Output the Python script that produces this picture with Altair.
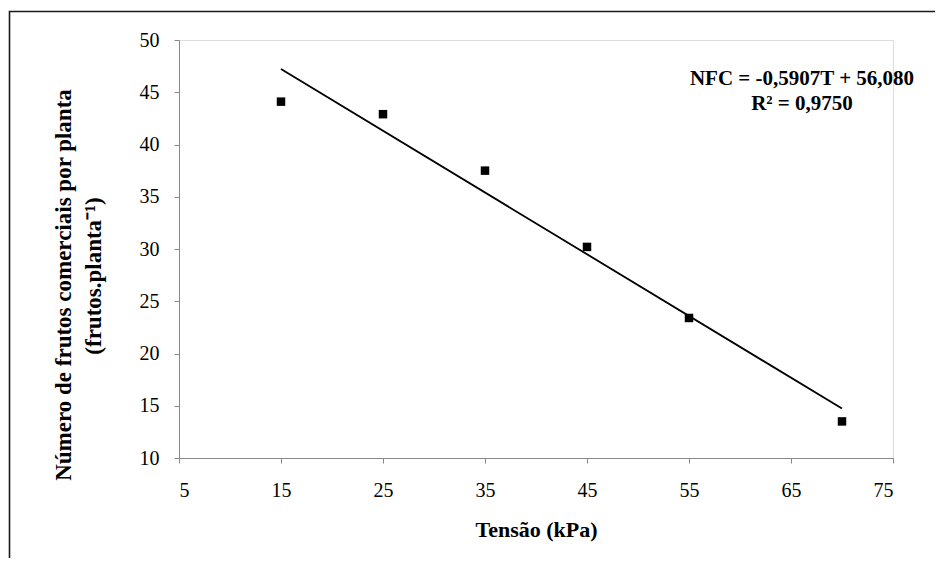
import altair as alt
import pandas as pd

# Data
tensao = [15, 25, 35, 45, 55, 70]
nfc = [44.1, 42.9, 37.5, 30.2, 23.4, 13.5]
slope = -0.5907
intercept = 56.080
fit_x = [15, 70]
eq_lines = ["NFC = -0,5907T + 56,080", "R² = 0,9750"]
y_title_lines = ["Número de frutos comerciais por planta", "(frutos.planta⁻¹)"]
x_title = "Tensão (kPa)"
x_ticks = [5, 15, 25, 35, 45, 55, 65, 75]
y_ticks = [10, 15, 20, 25, 30, 35, 40, 45, 50]

pts = pd.DataFrame({"x": tensao, "y": nfc})
fit = pd.DataFrame({"x": fit_x, "y": [slope * v + intercept for v in fit_x]})
one = pd.DataFrame({"k": [0]})

FONT = "Liberation Serif"
W, H = 714, 418

xs = alt.Scale(domain=[5, 75], nice=False, zero=False)
ys = alt.Scale(domain=[10, 50], nice=False, zero=False)

x_axis = alt.Axis(values=x_ticks, title=x_title, grid=False, domainColor="#888888",
                  tickColor="#888888", tickSize=5, labelFont=FONT, labelFontSize=20,
                  labelColor="black", labelPadding=17, titleFont=FONT, titleFontSize=22,
                  titleFontWeight="bold", titleColor="black", titlePadding=19)
y_axis = alt.Axis(values=y_ticks, title=None, grid=False, domainColor="#888888",
                  tickColor="#888888", tickSize=5, labelFont=FONT, labelFontSize=20,
                  labelColor="black", labelPadding=15)

points = alt.Chart(pts).mark_point(shape="square", filled=True, size=72, color="black", opacity=1).encode(
    x=alt.X("x:Q", scale=xs, axis=x_axis),
    y=alt.Y("y:Q", scale=ys, axis=y_axis),
)

line = alt.Chart(fit).mark_line(color="black", strokeWidth=1.8).encode(
    x=alt.X("x:Q", scale=xs),
    y=alt.Y("y:Q", scale=ys),
)

eq1 = alt.Chart(one).mark_text(font=FONT, fontSize=21, fontWeight="bold", align="center",
                               baseline="alphabetic", text=eq_lines[0]).encode(
    x=alt.value(623), y=alt.value(45))
eq2 = alt.Chart(one).mark_text(font=FONT, fontSize=21, fontWeight="bold", align="center",
                               baseline="alphabetic", text=eq_lines[1]).encode(
    x=alt.value(623), y=alt.value(70))

yt1 = alt.Chart(one).mark_text(font=FONT, fontSize=23, fontWeight="bold", align="center",
                               baseline="middle", angle=270, text=y_title_lines[0]).encode(
    x=alt.value(-115), y=alt.value(245))
yt2 = alt.Chart(one).mark_text(font=FONT, fontSize=23, fontWeight="bold", align="center",
                               baseline="middle", angle=270, text=y_title_lines[1]).encode(
    x=alt.value(-85), y=alt.value(236))

frame = alt.Chart(one).mark_rect(fillOpacity=0, stroke="#1a1a1a", strokeWidth=1.6).encode(
    x=alt.value(-169.5), x2=alt.value(900), y=alt.value(-28.5), y2=alt.value(700))

chart = alt.layer(frame, line, points, eq1, eq2, yt1, yt2).properties(
    width=W, height=H,
    autosize=alt.AutoSizeParams(type="none"),
    padding={"left": 171, "top": 32, "right": 42, "bottom": 100},
).configure_view(stroke=None).configure_axis(labelFont=FONT, titleFont=FONT).configure(background="white")

chart.save("out.html", embed_options={"renderer": "svg", "actions": False})
